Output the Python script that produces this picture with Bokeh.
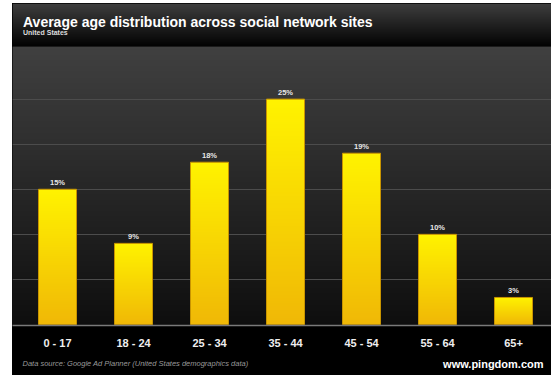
import numpy as np
from bokeh.plotting import figure
from bokeh.layouts import column
from bokeh.models import Range1d, FixedTicker, Grid, ColumnDataSource
from bokeh.core.properties import value
from bokeh.embed import file_html
from bokeh.resources import INLINE

# ---- data ----
categories = ["0 - 17", "18 - 24", "25 - 34", "35 - 44", "45 - 54", "55 - 64", "65+"]
shares = [15, 9, 18, 25, 19, 10, 3]
grid_ticks = [5, 10, 15, 20, 25]
title_text = "Average age distribution across social network sites"
subtitle_text = "United States"
source_text = "Data source: Google Ad Planner (United States demographics data)"
brand_text = "www.pingdom.com"

FONT = "Liberation Sans"
W = 539


def vgradient(top_rgb, bottom_rgb, n=256):
    img = np.empty((n, 1), dtype=np.uint32)
    view = img.view(dtype=np.uint8).reshape((n, 1, 4))
    for r in range(n):
        t = r / (n - 1)  # row 0 = bottom
        c = [int(round(bottom_rgb[k] + (top_rgb[k] - bottom_rgb[k]) * t)) for k in range(3)]
        view[r, 0, 0] = c[0]
        view[r, 0, 1] = c[1]
        view[r, 0, 2] = c[2]
        view[r, 0, 3] = 255
    return img


# ---- header ----
HH = 43
header = figure(width=W, height=HH, x_range=Range1d(0, W), y_range=Range1d(0, HH),
                x_axis_type=None, y_axis_type=None, toolbar_location=None,
                output_backend="svg", min_border=0, outline_line_color=None,
                border_fill_color="black", background_fill_color="black")
header.grid.visible = False
header.image_rgba(image=[vgradient((62, 62, 62), (2, 2, 2))], x=0, y=0, dw=W, dh=HH)
header.text(x=[10.5], y=[24.5], text=[title_text], text_font=value(FONT),
            text_font_style="bold", text_font_size="14px", text_color="#ffffff",
            text_baseline="middle")
header.text(x=[10.5], y=[14.3], text=[subtitle_text], text_font=value(FONT),
            text_font_style="bold", text_font_size="7px", text_color="#dddddd",
            text_baseline="middle")

# ---- main chart ----
x0, x1 = -45 / 76, (W - 45) / 76
pxper = 9.08
y0, y1 = -1 / pxper, 280 / pxper
MH = 305
p = figure(width=W, height=MH, x_range=Range1d(x0, x1), y_range=Range1d(y0, y1),
           y_axis_type=None, toolbar_location=None, output_backend="svg",
           min_border_left=0, min_border_right=0, min_border_top=0, min_border_bottom=24,
           border_fill_color="black", background_fill_color="#1e1e1e",
           outline_line_color=None)
p.xgrid.visible = False
bg = p.image_rgba(image=[vgradient((64, 64, 64), (14, 14, 14))], x=x0, y=y0,
                  dw=x1 - x0, dh=y1 - y0)
bg.level = "image"
p.add_layout(Grid(dimension=1, ticker=FixedTicker(ticks=grid_ticks),
                  grid_line_color="#4c4c4c", grid_line_width=1))

xs = list(range(len(categories)))
bar_w = 0.5
bar_grad = vgradient((255, 243, 0), (240, 184, 6))
p.image_rgba(image=[bar_grad] * len(xs), x=[i - bar_w / 2 for i in xs], y=[0] * len(xs),
             dw=[bar_w] * len(xs), dh=shares)
p.vbar(x=xs, top=shares, bottom=0, width=bar_w, fill_color=None, line_color="#c89400",
       line_width=1)

src = ColumnDataSource(dict(x=xs, y=shares, t=["%d%%" % v for v in shares]))
p.text(x="x", y="y", text="t", source=src, text_font=value(FONT), text_font_style="bold",
       text_font_size="7.5px", text_color="#e6e6e6", text_align="center",
       text_baseline="bottom", y_offset=-2)

ax = p.xaxis[0]
ax.ticker = FixedTicker(ticks=xs)
ax.major_label_overrides = {i: c for i, c in zip(xs, categories)}
ax.major_label_text_font = FONT
ax.major_label_text_font_style = "bold"
ax.major_label_text_font_size = "11px"
ax.major_label_text_color = "#eeeeee"
ax.major_label_standoff = 5
ax.axis_line_color = "#7a7a7a"
ax.axis_line_width = 1.5
ax.major_tick_line_color = None
ax.minor_tick_line_color = None

# ---- footer ----
FH = 375 - 3 - HH - MH
footer = figure(width=W, height=FH, x_range=Range1d(0, W), y_range=Range1d(0, FH),
                x_axis_type=None, y_axis_type=None, toolbar_location=None,
                output_backend="svg", min_border=0, outline_line_color=None,
                border_fill_color="black", background_fill_color="black")
footer.grid.visible = False
footer.text(x=[10], y=[FH - 12], text=[source_text], text_font=value(FONT),
            text_font_style="italic", text_font_size="7.5px", text_color="#9a9a9a",
            text_baseline="middle")
footer.text(x=[531], y=[FH - 12], text=[brand_text], text_font=value(FONT),
            text_font_style="bold", text_font_size="11px", text_color="#ffffff",
            text_baseline="middle", text_align="right")

layout = column(header, p, footer, spacing=0, margin=(3, 0, 0, 12),
                styles={"background-color": "black"})

open("out.html", "w").write(file_html(layout, INLINE))
